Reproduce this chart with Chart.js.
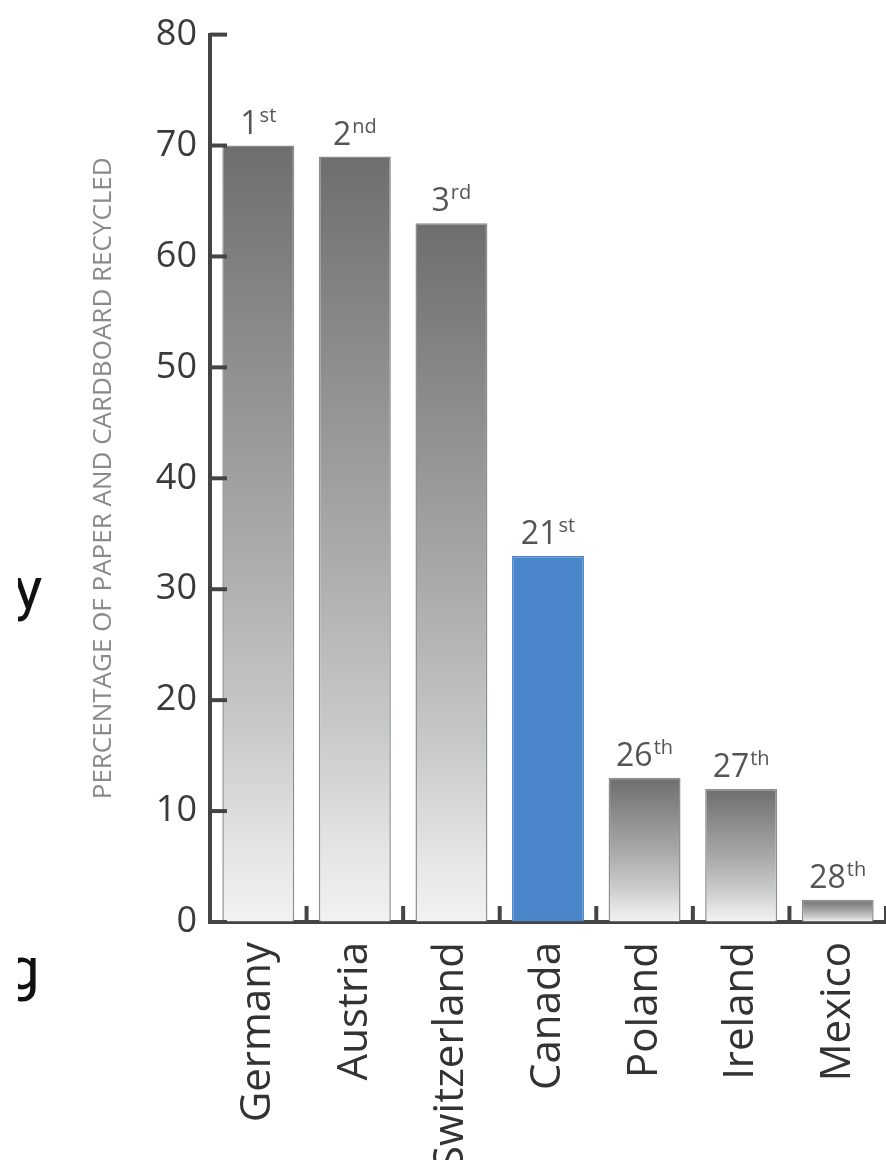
<!DOCTYPE html>
<html>
<head>
<meta charset="utf-8">
<script src="https://cdn.jsdelivr.net/npm/chart.js@4"></script>
<style>
  html, body { margin: 0; padding: 0; background: #fff; }
  #wrap { position: relative; width: 886px; height: 1160px; overflow: hidden; }
  #recycleChart { position: absolute; left: 0; top: 0; }
  .frag { position: absolute; left: 18px; width: 40px; height: 80px; overflow: hidden; }
  .frag span { position: absolute; font-family: Roboto, sans-serif; font-size: 60px; line-height: 60px; color: #111; }
</style>
</head>
<body>
<div id="wrap">
  <canvas id="recycleChart" width="886" height="1160"></canvas>
  <div class="frag" style="top:555px"><span style="left:-4px;top:4px">y</span></div>
  <div class="frag" style="top:930px"><span style="left:-12px;top:9px">g</span></div>
</div>
<script>
// Chart data
const countries = ['Germany', 'Austria', 'Switzerland', 'Canada', 'Poland', 'Ireland', 'Mexico'];
const recycledPercent = [70, 69, 63, 33, 13, 12, 2];
const rankNumbers = ['1', '2', '3', '21', '26', '27', '28'];
const rankSuffixes = ['st', 'nd', 'rd', 'st', 'th', 'th', 'th'];
const yTicks = [0, 10, 20, 30, 40, 50, 60, 70, 80];
const highlightIndex = 3;

const axisColor = '#444';

// Function to build the gray gradient for one bar
function barFill(context) {
  const chart = context.chart;
  if (!chart.chartArea) return '#999';
  if (context.dataIndex === highlightIndex) return '#4a86c9';
  const yScale = chart.scales.y;
  const top = yScale.getPixelForValue(context.raw);
  const bottom = yScale.getPixelForValue(0);
  const grad = chart.ctx.createLinearGradient(0, top, 0, bottom);
  grad.addColorStop(0, '#6e6e6e');
  grad.addColorStop(0.5, '#a8a8a8');
  grad.addColorStop(0.75, '#c8c9ca');
  grad.addColorStop(0.9, '#e4e4e4');
  grad.addColorStop(1, '#f2f2f2');
  return grad;
}

// Plugin to draw the inner tick marks on both axes
const innerTicks = {
  id: 'innerTicks',
  afterDatasetsDraw(chart) {
    const ctx = chart.ctx;
    const area = chart.chartArea;
    const x = chart.scales.x;
    const y = chart.scales.y;
    ctx.save();
    ctx.strokeStyle = axisColor;
    ctx.lineWidth = 4;
    yTicks.forEach(function (v) {
      const py = y.getPixelForValue(v);
      ctx.beginPath();
      ctx.moveTo(area.left, py);
      ctx.lineTo(area.left + 17, py);
      ctx.stroke();
    });
    for (let i = 0; i < countries.length; i++) {
      const px = x.getPixelForValue(i + 0.5);
      ctx.beginPath();
      ctx.moveTo(px, area.bottom);
      ctx.lineTo(px, area.bottom - 16);
      ctx.stroke();
    }
    ctx.restore();
  }
};

// Plugin to draw the ranking labels above the bars
const rankLabels = {
  id: 'rankLabels',
  afterDatasetsDraw(chart) {
    const ctx = chart.ctx;
    const bars = chart.getDatasetMeta(0).data;
    ctx.save();
    ctx.fillStyle = '#555';
    ctx.textBaseline = 'alphabetic';
    ctx.textAlign = 'left';
    bars.forEach(function (bar, i) {
      const numFont = '32px "Open Sans", sans-serif';
      const supFont = '20px "Open Sans", sans-serif';
      ctx.font = numFont;
      const nw = ctx.measureText(rankNumbers[i]).width;
      ctx.font = supFont;
      const sw = ctx.measureText(rankSuffixes[i]).width;
      const startX = bar.x - (nw + sw + 1) / 2;
      const baseY = bar.y - 12;
      ctx.font = numFont;
      ctx.fillText(rankNumbers[i], startX, baseY);
      ctx.font = supFont;
      ctx.fillText(rankSuffixes[i], startX + nw + 1, baseY - 12);
    });
    ctx.restore();
  }
};

const chartCanvas = document.getElementById('recycleChart').getContext('2d');
new Chart(chartCanvas, {
  type: 'bar',
  data: {
    labels: countries,
    datasets: [{
      label: 'Percentage recycled',
      data: recycledPercent,
      backgroundColor: barFill,
      borderColor: function (c) { return c.dataIndex === highlightIndex ? '#4a86c9' : '#8c8c8c'; },
      borderWidth: 1.5,
      barPercentage: 0.745,
      categoryPercentage: 1
    }]
  },
  options: {
    responsive: false,
    animation: false,
    devicePixelRatio: 1,
    layout: { padding: { top: 33, right: 0, bottom: 0, left: 0 } },
    plugins: {
      legend: { display: false },
      tooltip: { enabled: false }
    },
    scales: {
      x: {
        grid: { drawOnChartArea: false, drawTicks: false, color: 'rgba(0,0,0,0)' },
        border: { display: true, color: axisColor, width: 4 },
        ticks: {
          autoSkip: false,
          minRotation: 90,
          maxRotation: 90,
          padding: 20,
          color: '#333',
          font: { family: '"Open Sans", sans-serif', size: 42 }
        },
        afterFit: function (scale) {
          scale.height = 238;
          scale.paddingLeft = 0;
          scale.paddingRight = 0;
        }
      },
      y: {
        min: 0,
        max: 80,
        grid: { drawOnChartArea: false, drawTicks: false, color: 'rgba(0,0,0,0)' },
        border: { display: true, color: axisColor, width: 4 },
        ticks: {
          stepSize: 10,
          padding: 13,
          color: '#3a3a3a',
          font: { family: '"Open Sans", sans-serif', size: 36 }
        },
        title: {
          display: true,
          text: 'PERCENTAGE OF PAPER AND CARDBOARD RECYCLED',
          color: '#8a8a8a',
          font: { family: '"Open Sans", sans-serif', size: 26 },
          padding: { top: 88, bottom: 0 }
        },
        afterFit: function (scale) { scale.width = 210; }
      }
    }
  },
  plugins: [innerTicks, rankLabels]
});
</script>
</body>
</html>
